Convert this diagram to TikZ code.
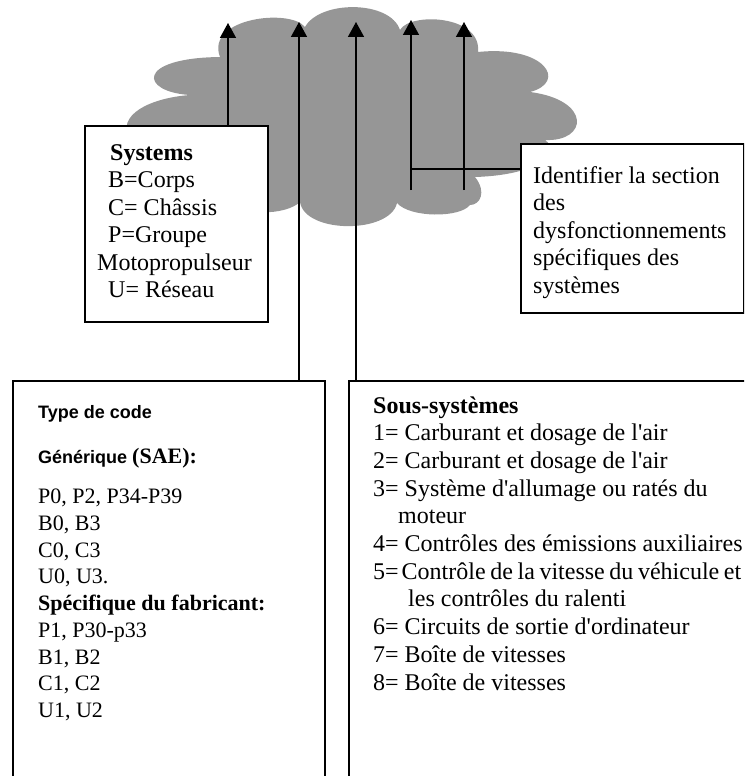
\documentclass[tikz,border=0pt]{standalone}
\usepackage{fontspec}
\setmainfont{Liberation Serif}[Ligatures=TeXOff]
\newfontfamily\arialfont{Liberation Sans}[Ligatures=TeXOff]
\usetikzlibrary{arrows.meta}
\definecolor{cloudgray}{RGB}{150,150,150}
\begin{document}
\begin{tikzpicture}[x=1pt,y=-1pt,
  box/.style={draw,line width=1.5pt,fill=white,inner sep=0pt,anchor=north west},
  txt/.style={anchor=base west,inner sep=0pt,font=\fontsize{24}{28}\selectfont},
  txtsm/.style={anchor=base west,inner sep=0pt,font=\fontsize{22}{26}\selectfont},
  txtsans/.style={anchor=base west,inner sep=0pt,font=\arialfont\bfseries\fontsize{18}{22}\selectfont},
  conn/.style={line width=1.5pt},
  arr/.style={conn,-{Triangle[length=15pt,width=16pt]}}]
\useasboundingbox (0,0) rectangle (744,776);
\clip (0,0) rectangle (744,776);
% cloud
\fill[cloudgray] (130,140)
  .. controls (115,115) and (150,98) .. (190,95)
  .. controls (140,92) and (135,58) .. (220,57)
  .. controls (205,18) and (290,8) .. (305,27)
  .. controls (320,0) and (390,0) .. (400,30)
  .. controls (410,12) and (482,15) .. (478,52)
  .. controls (545,45) and (568,82) .. (530,92)
  .. controls (592,100) and (588,142) .. (545,140)
  .. controls (562,152) and (540,175) .. (475,177)
  .. controls (487,192) and (480,205) .. (470,205)
  .. controls (460,218) and (410,218) .. (397,203)
  .. controls (390,234) and (305,234) .. (300,202)
  .. controls (285,216) and (240,216) .. (230,200)
  -- (130,200) -- cycle;
% boxes
\node[box,minimum width=183pt,minimum height=196pt] (sys) at (84,125) {};
\node[box,minimum width=312pt,minimum height=420pt] (lbox) at (12,380) {};
\node[box,minimum width=420pt,minimum height=420pt] (rbox) at (348,380) {};
\node[box,minimum width=223pt,minimum height=169pt] (idb) at (520,143) {};
% arrows
\coordinate (t1) at (228,23);
\coordinate (t2) at (299,22);
\coordinate (t3) at (356,22);
\coordinate (t4) at (411,20);
\coordinate (b4) at (411,190);
\coordinate (t5) at (464,22);
\coordinate (b5) at (464,190);
\coordinate (h) at (411,169);
\draw[arr] (sys.north -| t1) -- (t1);
\draw[arr] (lbox.north -| t2) -- (t2);
\draw[arr] (rbox.north -| t3) -- (t3);
\draw[arr] (b4) -- (t4);
\draw[arr] (b5) -- (t5);
\draw[conn] (h) -- (h -| idb.west);
% Systems text
\node[txt] (s1) at (110,160) {\bfseries Systems};
\node[txt] (s2) at (108,187.5) {B=Corps};
\node[txt] (s3) at (108,215) {C= Châssis};
\node[txt] (s4) at (108,242.5) {P=Groupe};
\node[txt] (s5) at (97,270) {Motopropulseur};
\node[txt] (s6) at (108,297) {U= Réseau};
% Identifier text
\node[txt] (i1) at (533,183) {Identifier la section};
\node[txt] (i2) at (533,210.5) {des};
\node[txt] (i3) at (533,238) {dysfonctionnements};
\node[txt] (i4) at (533,265.5) {spécifiques des};
\node[txt] (i5) at (533,293) {systèmes};
% left box text
\node[txtsans] (l1) at (38,418) {Type de code};
\node[txtsans] (l2) at (38,463) {Générique {\rmfamily\fontsize{22}{26}\selectfont (SAE):}};
\node[txtsm] (l3) at (38,503) {P0, P2, P34-P39};
\node[txtsm] (l4) at (38,530) {B0, B3};
\node[txtsm] (l5) at (38,557) {C0, C3};
\node[txtsm] (l6) at (38,583) {U0, U3.};
\node[txtsm] (l7) at (38,610) {\bfseries Spécifique du fabricant:};
\node[txtsm] (l8) at (38,637) {P1, P30-p33};
\node[txtsm] (l9) at (38,664) {B1, B2};
\node[txtsm] (l10) at (38,690) {C1, C2};
\node[txtsm] (l11) at (38,717) {U1, U2};
% right box text
\node[txt] (r0) at (373,413) {\bfseries Sous-systèmes};
\node[txt] (r1) at (373,440.7) {1= Carburant et dosage de l'air};
\node[txt] (r2) at (373,468.4) {2= Carburant et dosage de l'air};
\node[txt] (r3) at (373,496.1) {3= Système d'allumage ou ratés du};
\node[txt] (r3b) at (398,523.8) {moteur};
\node[txt] (r4) at (373,551.5) {4= Contrôles des émissions auxiliaires};
\node[txt] (r5) at (373,579.2) {\spaceskip=4.6pt 5=\hspace{3pt}Contrôle de la vitesse du véhicule et};
\node[txt] (r5b) at (408,606.9) {les contrôles du ralenti};
\node[txt] (r6) at (373,634.6) {6= Circuits de sortie d'ordinateur};
\node[txt] (r7) at (373,662.3) {7= Boîte de vitesses};
\node[txt] (r8) at (373,690) {8= Boîte de vitesses};
\end{tikzpicture}
\end{document}
